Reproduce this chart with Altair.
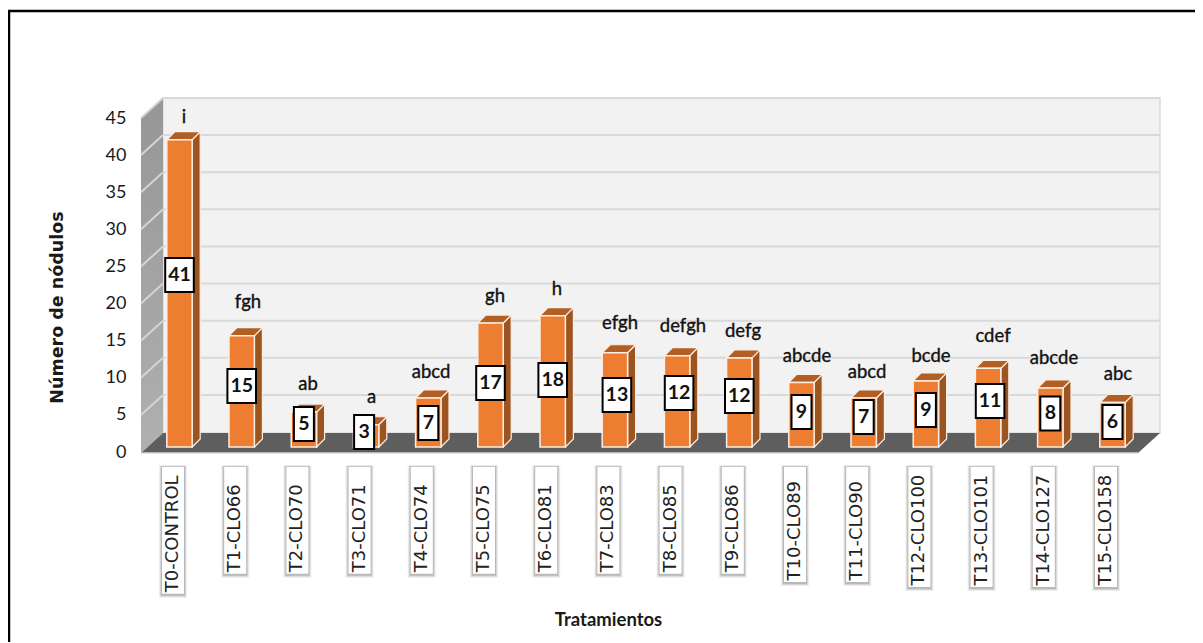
import altair as alt
import pandas as pd

# ---- chart values
names = ["T0-CONTROL", "T1-CLO66", "T2-CLO70", "T3-CLO71", "T4-CLO74", "T5-CLO75", "T6-CLO81", "T7-CLO83",
         "T8-CLO85", "T9-CLO86", "T10-CLO89", "T11-CLO90", "T12-CLO100", "T13-CLO101", "T14-CLO127", "T15-CLO158"]
values = [41.4, 15.0, 4.7, 3.0, 6.6, 16.7, 17.7, 12.7, 12.3, 12.0, 8.7, 6.6, 8.9, 10.6, 7.95, 6.0]
value_labels = [41, 15, 5, 3, 7, 17, 18, 13, 12, 12, 9, 7, 9, 11, 8, 6]
letters = ["i", "fgh", "ab", "a", "abcd", "gh", "h", "efgh", "defgh", "defg", "abcde", "abcd", "bcde", "cdef", "abcde", "abc"]
y_ticks = [0, 5, 10, 15, 20, 25, 30, 35, 40, 45]

# ---- where the annotations sit, on the value axis
value_label_at = [23.85, 8.89, 3.77, 2.70, 3.91, 9.30, 9.70, 7.68, 7.95, 7.55, 5.39, 4.72, 5.66, 6.87, 5.19, 4.04]
value_label_nudge = [0, 0, 0, -2, 0, 0, 0, 2, 2, 0, 0, 0, 0, 2, 0, 0]
letter_at = [45.15, 20.2, 9.16, 7.41, 10.78, 21.0, 22.0, 17.4, 17.0, 16.3, 13.0, 10.78, 13.0, 15.6, 12.6, 10.5]
letter_nudge = [4.5, 6.3, 4.1, 5.5, 2.7, 4.5, 4.3, 5.1, 5.9, 3.7, 5.5, 3.3, 5.1, 4.9, 3.7, 5.5]
name_box_end = [-19.1, -16.4, -16.4, -16.4, -16.4, -16.4, -16.4, -16.4, -16.4, -16.4, -17.5, -17.5, -18.2, -18.2, -18.2, -18.2]

# ---- layout
W, H = 997, 334
PX = 62.2              # pixels per treatment
PY = H / 45.0          # pixels per unit of the value axis
X0 = -38.5 / PX
X1 = X0 + W / PX
DX = 22 / PX           # depth of the room
DY = 20 / PY
BAR_HALF = 12.7 / PX
BAR_DX = 8 / PX        # depth of a bar
BAR_DY = 8 / PY
BAR_BASE = 5 / PY      # bars stand a little behind the front edge
FLOOR = -1 / PY
TOP = 45.0
LBL_DX = -6.5 / PX
xs = alt.Scale(domain=[X0, X1], nice=False, zero=False)
ys = alt.Scale(domain=[0, 45], nice=False, zero=False)
FONT = "Lato"

AX = alt.Axis(
    values=[0], labels=False, ticks=False, domain=False, grid=False, title="Tratamientos",
    titleFont=FONT, titleFontSize=18.5, titleFontWeight="bold", titleColor="#1a1a1a",
    titleX=467, titleY=167, titleBaseline="middle", titleAlign="center")
AY = alt.Axis(
    values=y_ticks, ticks=False, domain=False, grid=False, labelPadding=15, labelFont=FONT,
    labelFontSize=18, labelColor="#1a1a1a", title="Número de nódulos", titleFont="DejaVu Sans",
    titleFontSize=17.5, titleFontWeight="bold", titleColor="#1a1a1a", titleX=-84, titleY=189,
    titleAngle=270, titleAlign="center", titleBaseline="middle")

def X(f, **k):
    return alt.X(f, type="quantitative", scale=xs, axis=AX, title="Tratamientos", **k)
def Y(f, **k):
    return alt.Y(f, type="quantitative", scale=ys, axis=AY, title="Número de nódulos", **k)

n = len(names)
bars = pd.DataFrame({
    "i": range(n), "v": values, "name": names, "lab": [str(v) for v in value_labels], "let": letters,
    "lab_at": value_label_at, "let_at": letter_at, "box_end": name_box_end,
})
bars["left"] = bars.i - BAR_HALF
bars["right"] = bars.i + BAR_HALF
bars["base"] = BAR_BASE
bars["top"] = bars.v + BAR_BASE
bars["lab_x"] = bars.i + pd.Series(value_label_nudge) / PX
bars["let_x"] = bars.i + pd.Series(letter_nudge) / PX
bars["digits"] = bars.lab.str.len()
bars["lab_half"] = bars.digits.map({1: 10, 2: 14.3}) / PX
bars["lab_l"] = bars.lab_x - bars.lab_half
bars["lab_r"] = bars.lab_x + bars.lab_half
bars["lab_t"] = bars.lab_at + 17 / PY
bars["lab_b"] = bars.lab_at - 17 / PY
bars["nx"] = bars.i + LBL_DX
bars["nl"] = bars.nx - 11 / PX
bars["nr"] = bars.nx + 11 / PX
bars["nt"] = -15 / PY
bars["name_y"] = bars.box_end + 1.5 / PY

side = pd.concat([
    pd.DataFrame({"b": bars.i, "x": bars.right, "y": bars.base, "y2": bars.top}),
    pd.DataFrame({"b": bars.i, "x": bars.right + BAR_DX, "y": bars.base + BAR_DY, "y2": bars.top + BAR_DY}),
])
cap = pd.concat([
    pd.DataFrame({"b": bars.i, "y": bars.top, "x": bars.left, "x2": bars.right}),
    pd.DataFrame({"b": bars.i, "y": bars.top + BAR_DY, "x": bars.left + BAR_DX, "x2": bars.right + BAR_DX}),
])
floor = pd.DataFrame({"y": [FLOOR, FLOOR + DY], "x": [X0, X0 + DX], "x2": [X1, X1 + DX]})
wall_l = pd.DataFrame({"x": [X0, X0 + DX], "y": [FLOOR, FLOOR + DY], "y2": [TOP, TOP + DY]})
wall_b = pd.DataFrame({"x": [X0 + DX], "x2": [X1 + DX], "y": [FLOOR + DY], "y2": [TOP + DY]})
grid = pd.DataFrame({"t": y_ticks[1:]})
grid["x"] = X0 + DX
grid["x2"] = X1 + DX
grid["y"] = grid.t + DY
diag = pd.concat([
    pd.DataFrame({"t": y_ticks[1:], "x": X0, "y": y_ticks[1:]}),
    pd.DataFrame({"t": y_ticks[1:], "x": X0 + DX, "y": [t + DY for t in y_ticks[1:]]}),
])
front_edge = pd.DataFrame({"x": [X0], "x2": [X1], "y": [FLOOR]})

wall_back = alt.Chart(wall_b).mark_rect(fill="#f2f2f2", stroke="#dcdcdc", strokeWidth=1.5).encode(
    x=X("x"), x2="x2:Q", y=Y("y"), y2="y2:Q")
wall_left = alt.Chart(wall_l).mark_area(
    fill=alt.Gradient(gradient="linear", x1=0, x2=0, y1=0, y2=1,
                      stops=[alt.GradientStop(color="#969696", offset=0), alt.GradientStop(color="#b0b0b0", offset=1)])
).encode(x=X("x"), y=Y("y"), y2="y2:Q")
grid_back = alt.Chart(grid).mark_rule(color="#d9d9d9", strokeWidth=2).encode(x=X("x"), x2="x2:Q", y=Y("y"))
grid_side = alt.Chart(diag).mark_line(color="#d4d4d4", strokeWidth=2).encode(x=X("x"), y=Y("y"), detail="t:N")
floor_m = alt.Chart(floor).mark_area(orient="horizontal", fill="#5e5e5e").encode(x=X("x"), x2="x2:Q", y=Y("y"))
edge = alt.Chart(front_edge).mark_rule(color="#d9d9d9", strokeWidth=1.5).encode(x=X("x"), x2="x2:Q", y=Y("y"))

STROKE = "#fbeee4"
side_m = alt.Chart(side).mark_area(fill="#9c5520", stroke=STROKE, strokeWidth=1.2).encode(
    x=X("x"), y=Y("y"), y2="y2:Q", detail="b:N")
cap_m = alt.Chart(cap).mark_area(orient="horizontal", fill="#b25f25", stroke=STROKE, strokeWidth=1.2).encode(
    x=X("x"), x2="x2:Q", y=Y("y"), detail="b:N")
front_m = alt.Chart(bars).mark_rect(fill="#ed7d31", stroke=STROKE, strokeWidth=1.5).encode(
    x=X("left"), x2="right:Q", y=Y("base"), y2="top:Q")
lab_box = alt.Chart(bars).mark_rect(fill="white", stroke="black", strokeWidth=2).encode(
    x=X("lab_l"), x2="lab_r:Q", y=Y("lab_b"), y2="lab_t:Q")
lab_txt = alt.Chart(bars).mark_text(font=FONT, fontSize=19.5, fontWeight="bold", color="#111111", baseline="middle").encode(
    x=X("lab_x"), y=Y("lab_at"), text="lab:N")
let_txt = alt.Chart(bars).mark_text(font=FONT, fontSize=18.5, color="#111111", baseline="middle", stroke="#111111", strokeWidth=0.35).encode(
    x=X("let_x"), y=Y("let_at"), text="let:N")

def shadow(grow, opacity):
    d = bars.copy()
    d["sl"] = d.nl - grow / PX
    d["sr"] = d.nr + grow / PX
    d["st"] = d.nt + (grow * 0.6) / PY
    d["sb"] = d.box_end - (grow + 1) / PY
    return alt.Chart(d).mark_rect(fill="#555555", opacity=opacity).encode(
        x=X("sl"), x2="sr:Q", y=Y("sb"), y2="st:Q")

name_box = alt.Chart(bars).mark_rect(fill="white").encode(x=X("nl"), x2="nr:Q", y=Y("box_end"), y2="nt:Q")
name_txt = alt.Chart(bars).mark_text(font="DejaVu Sans", fontSize=18, angle=270, align="left", baseline="middle", color="#222222").encode(
    x=X("nx"), y=Y("name_y"), text="name:N")

frame_top = alt.Chart(bars.head(1)).mark_rule(color="black", strokeWidth=2.5).encode(
    x=alt.value(-133), x2=alt.value(1054), y=alt.value(-107))
frame_left = alt.Chart(bars.head(1)).mark_rule(color="black", strokeWidth=2.5).encode(
    x=alt.value(-132), y=alt.value(-107), y2=alt.value(525))

chart = alt.layer(
    wall_back, wall_left, grid_back, grid_side, floor_m, edge, side_m, cap_m, front_m, lab_box, lab_txt, let_txt,
    shadow(3, 0.10), shadow(2, 0.16), shadow(1, 0.22), name_box, name_txt, frame_top, frame_left,
).properties(
    width=W, height=H, background="white",
    padding={"left": 133, "top": 110, "right": 57, "bottom": 190},
    autosize=alt.AutoSizeParams(type="none"),
).configure_view(stroke=None)

chart.save("out.html", embed_options={"renderer": "svg", "actions": False})
